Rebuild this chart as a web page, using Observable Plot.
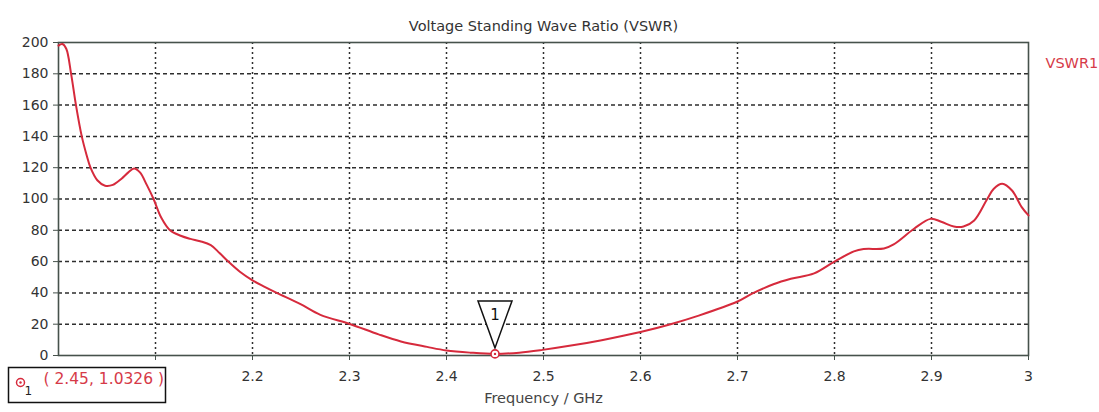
<!DOCTYPE html>
<html>
<head>
<meta charset="utf-8">
<script src="https://cdn.jsdelivr.net/npm/d3@7"></script>
<script src="https://cdn.jsdelivr.net/npm/@observablehq/plot@0.6"></script>
<style>
  html, body { margin: 0; padding: 0; background: #fff; }
  #chart svg { display: block; }
</style>
</head>
<body>
<div id="chart"></div>
<script>
// ---- data ----
const freqGHz = [2.000, 2.004, 2.008, 2.013, 2.018, 2.024, 2.029, 2.033, 2.040, 2.048,
  2.056, 2.065, 2.072, 2.078, 2.084, 2.091, 2.098, 2.106, 2.115, 2.126,
  2.136, 2.146, 2.157, 2.166, 2.175, 2.187, 2.200, 2.212, 2.225, 2.249,
  2.270, 2.301, 2.330, 2.353, 2.380, 2.400, 2.425, 2.450, 2.475, 2.499,
  2.530, 2.560, 2.600, 2.631, 2.660, 2.700, 2.715, 2.737, 2.755, 2.779,
  2.800, 2.820, 2.830, 2.851, 2.861, 2.882, 2.899, 2.910, 2.923, 2.933,
  2.944, 2.957, 2.964, 2.973, 2.983, 2.993, 3.000];
const vswr1 = [198, 199, 196, 180, 160, 140, 128, 120, 112, 108.5,
  109, 113, 117, 119.5, 117, 109, 100, 88, 80, 76.5,
  74.5, 73, 70.5, 65.5, 60, 53.5, 48, 44, 40, 33,
  26, 20, 13.5, 9, 5.5, 3.2, 1.8, 1.0326, 1.8, 3.6,
  6.5, 9.8, 15, 20, 25.5, 34.5, 39.5, 45.5, 49, 52.5,
  60, 66.5, 68, 68.4, 71, 81, 87.3, 85.5, 82.4, 82.4,
  86.3, 99.5, 106.4, 109.7, 105.4, 94.8, 89.5];

const markerFreq = [2.45];
const markerValue = [1.0326];
const markerLabel = ["1"];

const xTicks = [2.1, 2.2, 2.3, 2.4, 2.5, 2.6, 2.7, 2.8, 2.9, 3.0];
const xTickLabels = ["", "2.2", "2.3", "2.4", "2.5", "2.6", "2.7", "2.8", "2.9", "3"];
const yTicks = [0, 20, 40, 60, 80, 100, 120, 140, 160, 180, 200];
const xGrid = [2.1, 2.2, 2.3, 2.4, 2.5, 2.6, 2.7, 2.8, 2.9];
const yGrid = [20, 40, 60, 80, 100, 120, 140, 160, 180];

const titleText = "Voltage Standing Wave Ratio (VSWR)";
const xLabel = "Frequency / GHz";
const seriesName = "VSWR1";

// ---- build ----
const curve = freqGHz.map((f, i) => ({f, v: vswr1[i]}));
const markers = markerFreq.map((f, i) => ({f, v: markerValue[i], label: markerLabel[i]}));
const xLabelMap = new Map(xTicks.map((t, i) => [t, xTickLabels[i]]));
const readout = markers.map(m => `( ${m.f}, ${m.v} )`);

const RED = "#d62a3c";
const TXTRED = "#d63a48";
const GRID = "#2e2e2e";

const downTriangle = {
  draw(ctx) {
    ctx.moveTo(0, -6);
    ctx.lineTo(-17, -53);
    ctx.lineTo(17, -53);
    ctx.closePath();
  }
};
const readoutBox = {
  draw(ctx) {
    ctx.rect(-50, 12, 157, 35);
  }
};

const chart = Plot.plot({
  width: 1099,
  height: 412,
  marginLeft: 58,
  marginRight: 71,
  marginTop: 42,
  marginBottom: 57,
  style: {fontFamily: "DejaVu Sans, sans-serif", fontSize: "14px", background: "#fff", color: "#333"},
  x: {domain: [2, 3]},
  y: {domain: [0, 200]},
  marks: [
    Plot.ruleX(xGrid, {stroke: GRID, strokeWidth: 1.5, strokeDasharray: "2,3"}),
    Plot.ruleY(yGrid, {stroke: GRID, strokeWidth: 1.5, strokeDasharray: "4,3"}),
    Plot.frame({stroke: "#46524c", strokeWidth: 1.6}),
    Plot.axisY({ticks: yTicks, tickSize: 5, tickPadding: 5, label: null, fontSize: 14, fill: "#333", stroke: "#46524c"}),
    Plot.axisX({ticks: xTicks, tickSize: 5, tickPadding: 11, label: null, fontSize: 14, fill: "#333", stroke: "#46524c",
      tickFormat: d => xLabelMap.get(d)}),
    Plot.line(curve, {x: "f", y: "v", stroke: RED, strokeWidth: 2, curve: "catmull-rom"}),
    // marker triangle with label
    Plot.dot(markers, {x: "f", y: "v", symbol: downTriangle, stroke: "#111", strokeWidth: 1.5, fill: "#fff"}),
    Plot.text(markers, {x: "f", y: "v", text: "label", dy: -39, fontSize: 15, fill: "#111"}),
    Plot.dot(markers, {x: "f", y: "v", r: 4, stroke: RED, strokeWidth: 1.6, fill: "#fff"}),
    Plot.dot(markers, {x: "f", y: "v", r: 1.2, fill: RED}),
    // title, axis label, series name
    Plot.text([titleText], {frameAnchor: "top", dy: -22, fontSize: 14.5, fill: "#333"}),
    Plot.text([xLabel], {frameAnchor: "bottom", dy: 47, fontSize: 14.5, fill: "#444"}),
    Plot.text([seriesName], {frameAnchor: "top-right", dx: 17, dy: 15, textAnchor: "start", fontSize: 14.5, fill: TXTRED}),
    // marker readout box
    Plot.dot([0], {frameAnchor: "bottom-left", symbol: readoutBox, stroke: "#111", strokeWidth: 1.5, fill: "#fff"}),
    Plot.dot([0], {frameAnchor: "bottom-left", dx: -38, dy: 27, r: 4, stroke: RED, strokeWidth: 1.5, fill: "#fff"}),
    Plot.dot([0], {frameAnchor: "bottom-left", dx: -38, dy: 27, r: 1.2, fill: RED}),
    Plot.text(markers, {frameAnchor: "bottom-left", dx: -34, dy: 39, text: "label", fontSize: 12, fill: "#222"}),
    Plot.text(readout, {frameAnchor: "bottom-left", dx: -15, dy: 28, textAnchor: "start", fontSize: 15.5, fill: TXTRED})
  ]
});
document.getElementById("chart").append(chart);
</script>
</body>
</html>
